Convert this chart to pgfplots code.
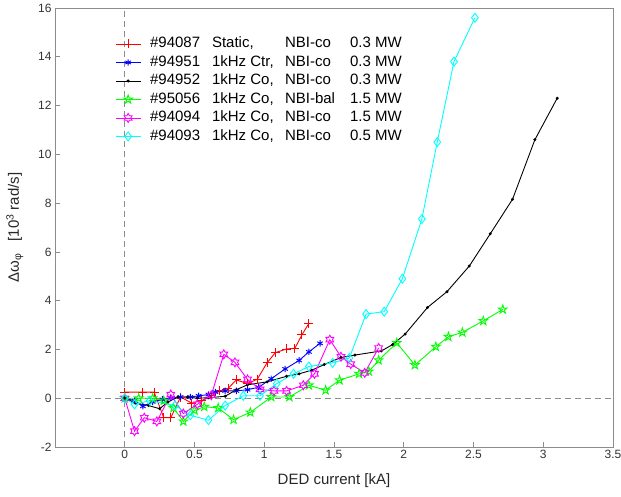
\documentclass[border=0pt]{standalone}
\usepackage{fontspec}
\setmainfont{Liberation Sans}
\usepackage{pgfplots}
\pgfplotsset{compat=1.18}
\usetikzlibrary{plotmarks}

\pgfdeclareplotmark{pentagram}{%
  \pgfpathmoveto{\pgfpointpolar{90}{\pgfplotmarksize}}%
  \pgfpathlineto{\pgfpointpolar{126}{0.382\pgfplotmarksize}}%
  \pgfpathlineto{\pgfpointpolar{162}{\pgfplotmarksize}}%
  \pgfpathlineto{\pgfpointpolar{198}{0.382\pgfplotmarksize}}%
  \pgfpathlineto{\pgfpointpolar{234}{\pgfplotmarksize}}%
  \pgfpathlineto{\pgfpointpolar{270}{0.382\pgfplotmarksize}}%
  \pgfpathlineto{\pgfpointpolar{306}{\pgfplotmarksize}}%
  \pgfpathlineto{\pgfpointpolar{342}{0.382\pgfplotmarksize}}%
  \pgfpathlineto{\pgfpointpolar{18}{\pgfplotmarksize}}%
  \pgfpathlineto{\pgfpointpolar{54}{0.382\pgfplotmarksize}}%
  \pgfpathclose\pgfusepathqstroke}
\pgfdeclareplotmark{hexagram}{%
  \pgfpathmoveto{\pgfpointpolar{90}{\pgfplotmarksize}}%
  \pgfpathlineto{\pgfpointpolar{120}{0.577\pgfplotmarksize}}%
  \pgfpathlineto{\pgfpointpolar{150}{\pgfplotmarksize}}%
  \pgfpathlineto{\pgfpointpolar{180}{0.577\pgfplotmarksize}}%
  \pgfpathlineto{\pgfpointpolar{210}{\pgfplotmarksize}}%
  \pgfpathlineto{\pgfpointpolar{240}{0.577\pgfplotmarksize}}%
  \pgfpathlineto{\pgfpointpolar{270}{\pgfplotmarksize}}%
  \pgfpathlineto{\pgfpointpolar{300}{0.577\pgfplotmarksize}}%
  \pgfpathlineto{\pgfpointpolar{330}{\pgfplotmarksize}}%
  \pgfpathlineto{\pgfpointpolar{0}{0.577\pgfplotmarksize}}%
  \pgfpathlineto{\pgfpointpolar{30}{\pgfplotmarksize}}%
  \pgfpathlineto{\pgfpointpolar{60}{0.577\pgfplotmarksize}}%
  \pgfpathclose\pgfusepathqstroke}

\definecolor{mred}{rgb}{1,0,0}
\definecolor{mblue}{rgb}{0,0,1}
\definecolor{mgreen}{rgb}{0,1,0}
\definecolor{mmag}{rgb}{1,0,1}
\definecolor{mcyan}{rgb}{0,1,1}
\definecolor{axgray}{rgb}{0.55,0.55,0.55}

\newcommand{\lent}[4]{\makebox[62pt][l]{#1}\makebox[73pt][l]{#2}\makebox[65pt][l]{#3}#4}

\begin{document}
\begin{tikzpicture}
\begin{axis}[
  width=558pt, height=439pt, scale only axis,
  xmin=-0.5, xmax=3.5, ymin=-2, ymax=16,
  xtick={0,0.5,1,1.5,2,2.5,3,3.5},
  ytick={-2,0,2,4,6,8,10,12,14,16},
  tick pos=left, tick align=inside,
  major tick length=5pt,
  axis line style={axgray, line width=0.8pt},
  major tick style={axgray, line width=0.7pt},
  tick label style={font=\fontsize{12}{14}\selectfont, text=black!80},
  label style={font=\fontsize{15}{18}\selectfont, text=black!85},
  /pgf/number format/assume math mode=true,
  xlabel={DED current [kA]},
  ylabel={Δω\textsubscript{φ}\hspace{0.8em}[10\textsuperscript{3} rad/s]},
  xlabel style={at={(axis description cs:0.5,-0.077)}, anchor=center},
  ylabel style={at={(axis description cs:-0.072,0.5)}, anchor=center},
  legend image code/.code={\draw[mark repeat=2,mark phase=2] plot coordinates {(0pt,0pt)(12.5pt,0pt)(25pt,0pt)};},
  legend style={at={(axis description cs:0.1075,0.935)}, anchor=north west,
    draw=none, fill=none, inner sep=0pt, column sep=9pt, row sep=4pt,
    font=\fontsize{15}{18}\selectfont,
    nodes={inner sep=0pt, text height=11pt, text depth=3.5pt}},
  legend cell align=left,
]
\addplot[axgray, dashed, line width=0.9pt, dash pattern=on 6pt off 4pt, forget plot] coordinates {(-0.5,0) (3.5,0)};
\addplot[axgray, dashed, line width=0.9pt, dash pattern=on 6pt off 4pt, forget plot] coordinates {(0,-2) (0,16)};

\addplot[mred, line width=0.9pt, mark=+, mark size=4.5pt, mark options={solid}] coordinates {
(0.0,0.25) (0.13,0.25) (0.21,0.25) (0.28,-0.8) (0.33,-0.8) (0.40,0.05) (0.48,-0.2)
(0.55,-0.1) (0.62,0.1) (0.68,0.3) (0.74,0.4) (0.80,0.75) (0.88,0.6) (0.95,0.78)
(1.02,1.45) (1.08,1.87) (1.16,2.02) (1.22,2.05) (1.27,2.6) (1.32,3.07)};
\addlegendentry{\lent{\#94087}{Static,}{NBI-co}{0.3 MW}}

\addplot[mblue, line width=0.9pt, mark=asterisk, mark size=3.2pt, mark options={solid}] coordinates {
(0,0) (0.07,-0.1) (0.13,-0.33) (0.20,-0.15) (0.27,-0.05) (0.33,0.0) (0.40,0.05)
(0.47,0.05) (0.53,0.1) (0.60,0.15) (0.65,0.25) (0.72,0.3) (0.80,0.3) (0.88,0.35)
(0.96,0.45) (1.05,0.8) (1.15,1.2) (1.25,1.55) (1.32,1.9) (1.40,2.25)};
\addlegendentry{\lent{\#94951}{1kHz Ctr,}{NBI-co}{0.3 MW}}

\addplot[black, line width=0.9pt, mark=*, mark size=1pt, mark options={solid}] coordinates {
(0,0) (0.08,-0.2) (0.17,-0.3) (0.25,-0.43) (0.31,-0.15) (0.38,0.05) (0.45,0.05)
(0.52,0.0) (0.60,0.02) (0.72,0.08) (0.80,0.35) (0.88,0.55) (1.02,0.67) (1.16,0.9)
(1.25,1.0) (1.34,1.15) (1.43,1.38) (1.55,1.67) (1.65,1.77) (1.84,1.94) (1.92,2.2)
(2.01,2.63) (2.17,3.72) (2.31,4.37) (2.47,5.42) (2.62,6.74) (2.78,8.16) (2.94,10.6) (3.10,12.3)};
\addlegendentry{\lent{\#94952}{1kHz Co,}{NBI-co}{0.3 MW}}

\addplot[mgreen, line width=0.9pt, mark=pentagram, mark size=4.5pt, mark options={solid}] coordinates {
(0,0) (0.10,0.0) (0.20,0.0) (0.28,-0.1) (0.35,-0.4) (0.42,-0.95) (0.50,-0.5)
(0.57,-0.35) (0.67,-0.4) (0.78,-0.88) (0.90,-0.58) (1.05,0.05) (1.18,0.05)
(1.32,0.53) (1.44,0.33) (1.54,0.74) (1.68,1.0) (1.75,1.1) (1.82,1.56) (1.95,2.27)
(2.08,1.36) (2.23,2.11) (2.32,2.52) (2.42,2.7) (2.57,3.17) (2.71,3.64)};
\addlegendentry{\lent{\#95056}{1kHz Co,}{NBI-bal}{1.5 MW}}

\addplot[mmag, line width=0.9pt, mark=hexagram, mark size=4.5pt, mark options={solid}] coordinates {
(0,0) (0.07,-1.35) (0.14,-0.8) (0.23,-0.95) (0.33,0.15) (0.42,-0.63) (0.52,-0.25)
(0.62,0.12) (0.71,1.8) (0.79,1.47) (0.88,0.77) (0.97,0.36) (1.07,0.3) (1.16,0.3)
(1.28,0.53) (1.36,1.0) (1.47,2.4) (1.55,1.7) (1.62,1.4) (1.72,1.04) (1.82,2.06)};
\addlegendentry{\lent{\#94094}{1kHz Co,}{NBI-co}{1.5 MW}}

\addplot[mcyan, line width=0.9pt, mark=diamond, mark size=4.5pt, mark options={solid}] coordinates {
(0,0) (0.07,-0.25) (0.18,-0.1) (0.36,-0.3) (0.47,-0.7) (0.60,-0.9) (0.72,-0.3)
(0.85,0.1) (0.97,0.1) (1.09,0.6) (1.21,1.0) (1.32,1.3) (1.49,1.45) (1.61,1.65)
(1.73,3.45) (1.86,3.55) (1.99,4.9) (2.13,7.35) (2.24,10.5) (2.36,13.8) (2.51,15.6)};
\addlegendentry{\lent{\#94093}{1kHz Co,}{NBI-co}{0.5 MW}}
\end{axis}
\pgfresetboundingbox
\path (-55pt,-49pt) rectangle (566pt,447pt);
\end{tikzpicture}
\end{document}
